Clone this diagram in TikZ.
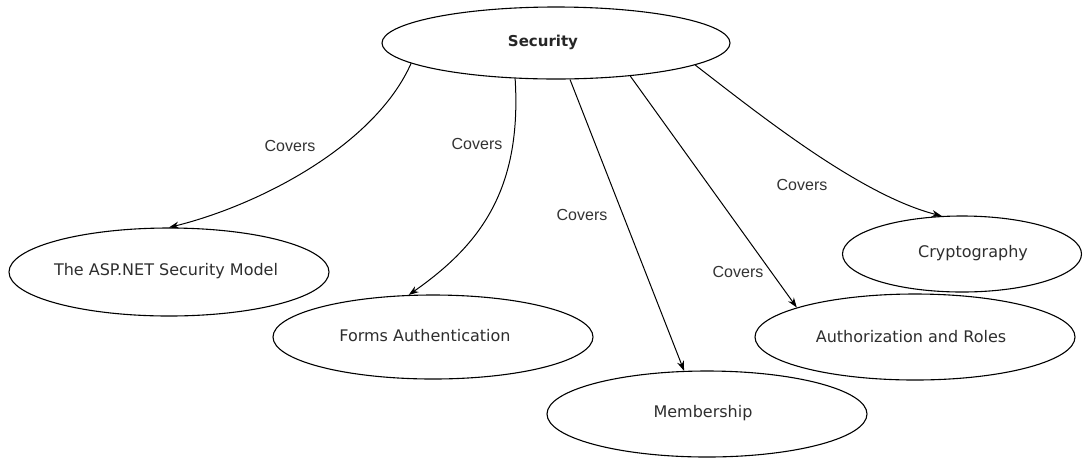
\documentclass[tikz,border=0pt]{standalone}
\usepackage{fontspec}
\setmainfont{DejaVu Sans}
\newfontfamily\coversfont{Liberation Sans}
\usetikzlibrary{shapes.geometric,arrows.meta}
\tikzset{
  topic/.style={draw=black, line width=1.1pt, ellipse, inner sep=0pt},
  topictext/.style={inner sep=0pt, font=\fontsize{16}{18}\selectfont, text=black!82},
  rel/.style={draw=black, line width=1pt, -{Stealth[length=10pt,width=7pt]}},
  lbl/.style={inner sep=0pt, font=\coversfont\fontsize{16}{18}\selectfont, text=black!80}
}
\begin{document}
\begin{tikzpicture}[x=1pt,y=-1pt]
\useasboundingbox (0,0) rectangle (1083,459);
\fill[white] (0,0) rectangle (1083,459);
\begin{scope}
\clip (0,0) rectangle (1083,459);
\node[topic, minimum width=348pt, minimum height=72pt] (sec) at (556,43) {};
\node[inner sep=0pt, font=\bfseries\fontsize{15}{18}\selectfont, text=black!85] (sect) at (543,42) {Security};
\node[topic, minimum width=320pt, minimum height=88pt] (asp) at (169,272) {};
\node[topictext] (aspt) at (166,271) {The ASP.NET Security Model};
\node[topic, minimum width=320pt, minimum height=84pt] (forms) at (433,337) {};
\node[topictext] (formst) at (425,336) {Forms Authentication};
\node[topic, minimum width=320pt, minimum height=86pt] (mem) at (707,414) {};
\node[topictext] (memt) at (703,413) {Membership};
\node[topic, minimum width=320pt, minimum height=86pt] (auth) at (915,337) {};
\node[topictext] (autht) at (911,337) {Authorization and Roles};
\node[topic, minimum width=239pt, minimum height=76pt] (crypt) at (962,254) {};
\node[topictext] (cryptt) at (973,253) {Cryptography};

\draw[rel] (sec.188) .. controls (375,145) and (260,205) .. (asp.north);
\draw[rel] (sec.221) .. controls (522,190) and (480,245) .. (forms.120);
\draw[rel] (sec.291) -- (mem.118);
\draw[rel] (sec.336) -- (auth.166);
\draw[rel] (sec.351) .. controls (760,115) and (860,195) .. (crypt.118);

\node[lbl] (c1) at (290,146) {Covers};
\node[lbl] (c2) at (477,144) {Covers};
\node[lbl] (c3) at (582,215) {Covers};
\node[lbl] (c4) at (738,272) {Covers};
\node[lbl] (c5) at (802,185) {Covers};
\end{scope}
\end{tikzpicture}
\end{document}
